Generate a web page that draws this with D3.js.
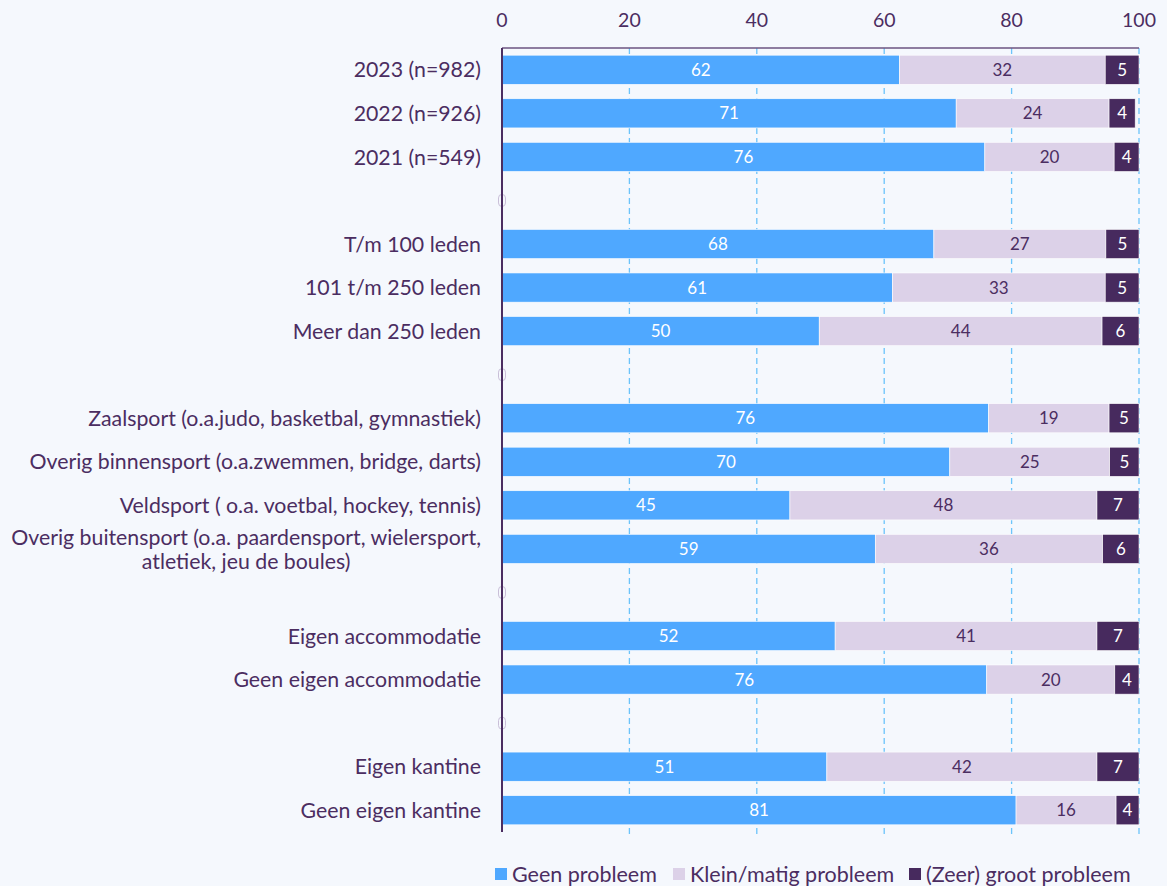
<!DOCTYPE html>
<html>
<head>
<meta charset="utf-8">
<script src="https://cdn.jsdelivr.net/npm/d3@7"></script>
<style>
  body { margin: 0; background: #f5f8fd; }
  text { font-family: Lato, "Open Sans", sans-serif; fill: #4b2d61; }
</style>
</head>
<body>
<script>
const width = 1167;
const height = 886;

// categories (empty string = spacer row)
const categories = [
	"2023 (n=982)", "2022 (n=926)", "2021 (n=549)", "",
	"T/m 100 leden", "101 t/m 250 leden", "Meer dan 250 leden", "",
	"Zaalsport (o.a.judo, basketbal, gymnastiek)",
	"Overig binnensport (o.a.zwemmen, bridge, darts)",
	"Veldsport ( o.a. voetbal, hockey, tennis)",
	"Overig buitensport (o.a. paardensport, wielersport,|atletiek, jeu de boules)", "",
	"Eigen accommodatie", "Geen eigen accommodatie", "",
	"Eigen kantine", "Geen eigen kantine"
];

const series = ["Geen probleem", "Klein/matig probleem", "(Zeer) groot probleem"];

const geenProbleem  = [62.4, 71.3, 75.8, null, 67.8, 61.3, 49.8, null, 76.4, 70.3, 45.2, 58.6, null, 52.3, 76.1, null, 51.0, 80.7];
const kleinProbleem = [32.3, 24.0, 20.3, null, 27.0, 33.4, 44.4, null, 18.9, 25.1, 48.2, 35.7, null, 41.1, 20.1, null, 42.4, 15.7];
const grootProbleem = [5.3, 4.1, 3.9, null, 5.2, 5.3, 5.8, null, 4.7, 4.6, 6.6, 5.7, null, 6.6, 3.8, null, 6.6, 3.6];

const xTicks = [0, 20, 40, 60, 80, 100];

const colors = ["#4fa8ff", "#dcd1e8", "#472a5e"];
const labelColors = ["#ffffff", "#4b2d61", "#ffffff"];

const margin = {top: 48, right: 28, bottom: 54, left: 502};

const svg = d3.select("body")
	.append("svg")
	.attr("width", width)
	.attr("height", height);

const x = d3.scaleLinear()
	.domain([0, 100])
	.range([margin.left, 1139]);

const y = d3.scaleBand()
	.domain(d3.range(categories.length))
	.range([margin.top, 832])
	.paddingInner(0.33)
	.paddingOuter(0.165);

// gridlines
svg.append("g")
	.selectAll("line")
	.data(xTicks.slice(1))
	.enter().append("line")
	.attr("x1", d => x(d)).attr("x2", d => x(d))
	.attr("y1", margin.top).attr("y2", 836)
	.attr("stroke", "#6cc4fb")
	.attr("stroke-width", 1.3)
	.attr("stroke-dasharray", "6,4");

// stacked rows
const rows = categories.map((c, i) => ({
	i: i,
	name: c,
	values: [geenProbleem[i], kleinProbleem[i], grootProbleem[i]]
}));

const bars = svg.append("g");
rows.forEach(r => {
	if (r.values[0] === null) return;
	let start = 0;
	r.values.forEach((v, k) => {
		bars.append("rect")
			.attr("x", x(start))
			.attr("y", y(r.i))
			.attr("width", x(start + v) - x(start))
			.attr("height", y.bandwidth())
			.attr("fill", colors[k])
			.attr("stroke", "#ffffff")
			.attr("stroke-width", 0.6);
		bars.append("text")
			.attr("x", x(start + v / 2))
			.attr("y", y(r.i) + y.bandwidth() / 2)
			.attr("dy", "0.36em")
			.attr("text-anchor", "middle")
			.style("font-size", "17px")
			.style("fill", labelColors[k])
			.text(Math.round(v));
		start += v;
	});
});

// spacer markers
svg.append("g")
	.selectAll("rect")
	.data(rows.filter(r => r.values[0] === null))
	.enter().append("rect")
	.attr("x", x(0) - 3.5)
	.attr("y", d => y(d.i) + y.bandwidth() / 2 - 6)
	.attr("width", 7)
	.attr("height", 12)
	.attr("rx", 3.5)
	.attr("fill", "none")
	.attr("stroke", "#c9bfd8")
	.attr("stroke-width", 1);

// axes lines
svg.append("line")
	.attr("x1", x(0)).attr("x2", x(100))
	.attr("y1", margin.top).attr("y2", margin.top)
	.attr("stroke", "#6b5580").attr("stroke-width", 1.5);
svg.append("line")
	.attr("x1", x(0)).attr("x2", x(0))
	.attr("y1", margin.top).attr("y2", 832)
	.attr("stroke", "#4b2d61").attr("stroke-width", 2);

// tick labels
svg.append("g")
	.selectAll("text")
	.data(xTicks)
	.enter().append("text")
	.attr("x", d => x(d))
	.attr("y", 27)
	.attr("text-anchor", "middle")
	.style("font-size", "19.5px")
	.text(d => d);

// category labels
const labelX = x(0) - 21;
rows.forEach(r => {
	if (!r.name) return;
	const lines = r.name.split("|");
	const cy = y(r.i) + y.bandwidth() / 2;
	if (lines.length === 1) {
		svg.append("text")
			.attr("x", labelX).attr("y", cy)
			.attr("dy", "0.36em")
			.attr("text-anchor", "end")
			.style("font-size", "21.3px")
			.text(lines[0]);
	} else {
		const t = svg.append("text")
			.attr("text-anchor", "middle")
			.style("font-size", "21.3px");
		const first = t.append("tspan").text(lines[0]);
		const w = first.node().getComputedTextLength();
		const cx = labelX - w / 2;
		first.attr("x", cx).attr("y", cy - 12).attr("dy", "0.36em");
		t.append("tspan").attr("x", cx).attr("y", cy + 12).attr("dy", "0.36em").text(lines[1]);
	}
});

// legend
const legendX = [495, 673, 909];
const legend = svg.append("g");
series.forEach((s, k) => {
	legend.append("rect")
		.attr("x", legendX[k]).attr("y", 868)
		.attr("width", 12).attr("height", 12)
		.attr("fill", colors[k]);
	legend.append("text")
		.attr("x", legendX[k] + 17).attr("y", 874)
		.attr("dy", "0.36em")
		.style("font-size", "21.5px")
		.text(s);
});
</script>
</body>
</html>
